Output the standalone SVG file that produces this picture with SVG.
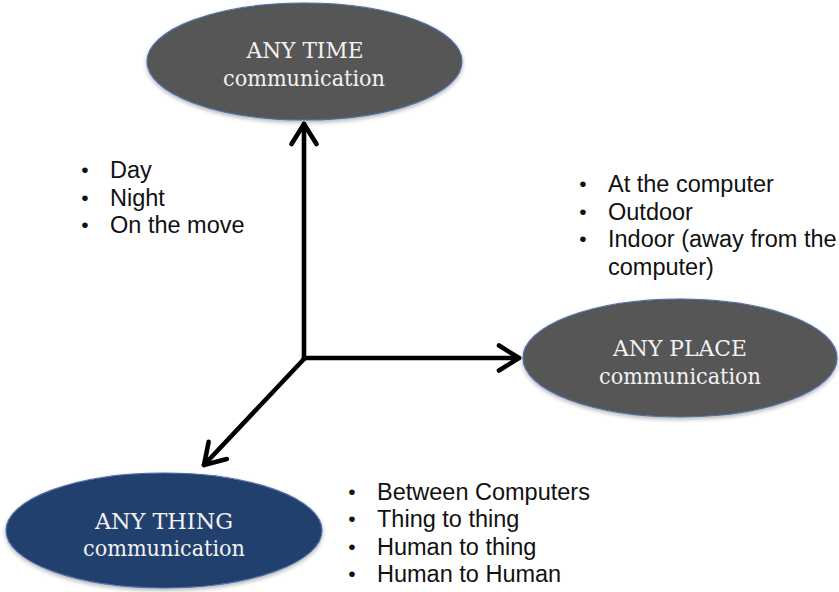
<svg xmlns="http://www.w3.org/2000/svg" width="839" height="592" viewBox="0 0 839 592">
  <defs>
    <style>
      .node-gray { fill: #575757; stroke: #4f6ea6; stroke-width: 1.2; }
      .node-blue { fill: #243f6e; stroke: #4f6ea6; stroke-width: 1.2; }
      .label { font-family: "DejaVu Serif", "Liberation Serif", serif; font-size: 22px; fill: #f2f2f2; text-anchor: middle; }
      .list { font-family: "Liberation Sans", Arial, sans-serif; font-size: 23.5px; fill: #111; }
      .dot { font-family: "Liberation Sans", Arial, sans-serif; font-size: 21px; fill: #111; text-anchor: middle; }
      .axis { fill: none; stroke: #000; stroke-width: 4.6; stroke-linecap: round; stroke-linejoin: round; }
    </style>
    <marker id="chevron" viewBox="-26 -17 30 34" refX="0" refY="0" markerWidth="30" markerHeight="34" markerUnits="userSpaceOnUse" orient="auto">
      <path d="M -20 -12.5 L 0 0 L -20 12.5" fill="none" stroke="#000" stroke-width="4.6" stroke-linecap="round" stroke-linejoin="round"/>
    </marker>
    <filter id="soft" x="-10%" y="-10%" width="120%" height="130%">
      <feGaussianBlur in="SourceAlpha" stdDeviation="2"/>
      <feOffset dy="2" result="b"/>
      <feComponentTransfer><feFuncA type="linear" slope="0.3"/></feComponentTransfer>
      <feMerge><feMergeNode/><feMergeNode in="SourceGraphic"/></feMerge>
    </filter>
  </defs>

  <rect width="839" height="592" fill="#ffffff"/>

  <!-- axes -->
  <g id="connectors">
    <line class="axis" x1="304" y1="359" x2="304" y2="124" marker-end="url(#chevron)"/>
    <line class="axis" x1="304" y1="358" x2="519" y2="358" marker-end="url(#chevron)"/>
    <line class="axis" x1="304" y1="359" x2="204" y2="465" marker-end="url(#chevron)"/>
  </g>

  <g id="node-time">
    <ellipse class="node-gray" cx="304.5" cy="61.5" rx="157.5" ry="58.5" filter="url(#soft)"/>
    <text class="label" x="305" y="58" textLength="117" lengthAdjust="spacingAndGlyphs">ANY TIME</text>
    <text class="label" x="304" y="85.5" textLength="162" lengthAdjust="spacingAndGlyphs">communication</text>
  </g>

  <g id="node-place">
    <ellipse class="node-gray" cx="680" cy="358" rx="157" ry="59" filter="url(#soft)"/>
    <text class="label" x="680" y="355.5" textLength="134" lengthAdjust="spacingAndGlyphs">ANY PLACE</text>
    <text class="label" x="680" y="383.5" textLength="162" lengthAdjust="spacingAndGlyphs">communication</text>
  </g>

  <g id="node-thing">
    <ellipse class="node-blue" cx="164" cy="530.5" rx="158" ry="57.5" filter="url(#soft)"/>
    <text class="label" x="164" y="528.5" textLength="138" lengthAdjust="spacingAndGlyphs">ANY THING</text>
    <text class="label" x="164" y="555.5" textLength="162" lengthAdjust="spacingAndGlyphs">communication</text>
  </g>

  <g id="list-time">
    <text class="dot" x="85" y="177">•</text><text class="list" x="110" y="178">Day</text>
    <text class="dot" x="85" y="204.5">•</text><text class="list" x="110" y="205.5">Night</text>
    <text class="dot" x="85" y="232">•</text><text class="list" x="110" y="233">On the move</text>
  </g>

  <g id="list-place">
    <text class="dot" x="583" y="191">•</text><text class="list" x="608" y="192">At the computer</text>
    <text class="dot" x="583" y="218.5">•</text><text class="list" x="608" y="219.5">Outdoor</text>
    <text class="dot" x="583" y="246">•</text><text class="list" x="608" y="247">Indoor (away from the</text>
    <text class="list" x="608" y="274.5">computer)</text>
  </g>

  <g id="list-thing">
    <text class="dot" x="352" y="498.5">•</text><text class="list" x="377" y="499.5">Between Computers</text>
    <text class="dot" x="352" y="526">•</text><text class="list" x="377" y="527">Thing to thing</text>
    <text class="dot" x="352" y="553.5">•</text><text class="list" x="377" y="554.5">Human to thing</text>
    <text class="dot" x="352" y="581">•</text><text class="list" x="377" y="582">Human to Human</text>
  </g>
</svg>
